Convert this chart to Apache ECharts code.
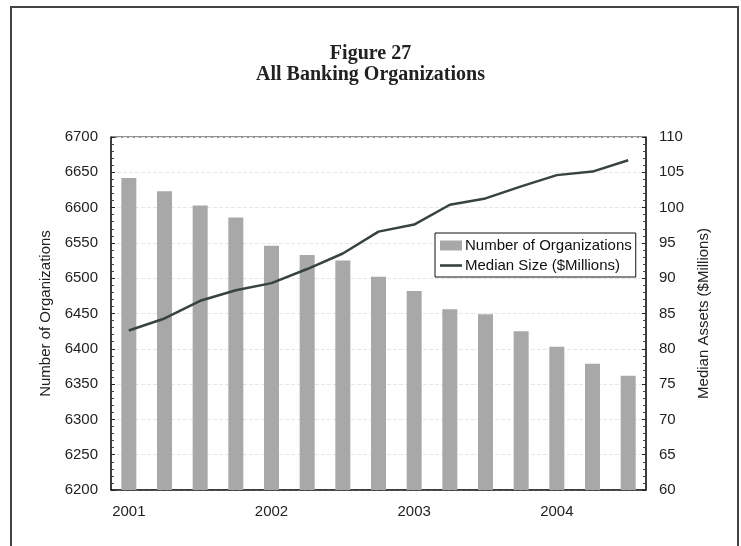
<!DOCTYPE html>
<html>
<head>
<meta charset="utf-8">
<script src="https://cdn.jsdelivr.net/npm/echarts@6/dist/echarts.min.js"></script>
<style>
  html, body { margin: 0; padding: 0; background: #fff; }
  #main { width: 741px; height: 546px; }
</style>
</head>
<body>
<div id="main"></div>
<script>
// quarterly, 2001 Q1 .. 2004 Q3
var quarters = ["2001", "2001 Q2", "2001 Q3", "2001 Q4",
  "2002", "2002 Q2", "2002 Q3", "2002 Q4",
  "2003", "2003 Q2", "2003 Q3", "2003 Q4",
  "2004", "2004 Q2", "2004 Q3"];
var numOrgs = [6642, 6623, 6603, 6586, 6546, 6533, 6525, 6502, 6482, 6456, 6449, 6425, 6403, 6379, 6362];
var medianSize = [82.6, 84.3, 86.8, 88.3, 89.3, 91.3, 93.5, 96.6, 97.6, 100.4, 101.3, 103.0, 104.6, 105.1, 106.7];

var chartDom = document.getElementById("main");
var myChart = echarts.init(chartDom);

var axisFont = { fontFamily: "Liberation Sans", fontSize: 15, color: "#222" };

var option = {
  animation: false,
  backgroundColor: "#fff",
  title: {
    text: "Figure 27\nAll Banking Organizations",
    left: "center",
    top: 38,
    textStyle: {
      fontFamily: "Liberation Serif",
      fontWeight: "bold",
      fontSize: 20,
      lineHeight: 21,
      color: "#222",
    },
  },
  graphic: [
    {
      type: "rect",
      shape: { x: 11, y: 7, width: 727, height: 560 },
      style: { fill: "none", stroke: "#444", lineWidth: 2 },
      silent: true,
    },
  ],
  legend: {
    orient: "vertical",
    left: 435,
    top: 233,
    backgroundColor: "#fff",
    borderColor: "#111",
    borderWidth: 1,
    padding: [5, 4, 4, 5],
    itemGap: 5,
    itemWidth: 22,
    itemHeight: 10,
    textStyle: { fontFamily: "Liberation Sans", fontSize: 15, color: "#111", padding: [0, 0, 0, -2] },
    data: [
      { name: "Number of Organizations", icon: "rect" },
      { name: "Median Size ($Millions)", icon: "path://M0,0H22V2.6H0Z" },
    ],
  },
  grid: {
    show: true,
    left: 111,
    right: 95,
    top: 137,
    bottom: 56,
    borderColor: "#222",
    borderWidth: 1,
  },
  xAxis: {
    type: "category",
    data: quarters,
    axisTick: { show: false },
    axisLine: { lineStyle: { color: "#222", width: 1.5 } },
    axisLabel: {
      interval: 3,
      margin: 14,
      formatter: function (v) { return v.slice(0, 4); },
      fontFamily: axisFont.fontFamily,
      fontSize: axisFont.fontSize,
      color: axisFont.color,
    },
  },
  yAxis: [
    {
      type: "value",
      min: 6200,
      max: 6700,
      interval: 50,
      name: "Number of Organizations",
      nameLocation: "middle",
      nameGap: 53,
      nameTextStyle: { fontFamily: "Liberation Sans", fontSize: 15, color: "#222" },
      axisLine: { show: true, lineStyle: { color: "#222", width: 1.5 } },
      axisTick: { show: true, inside: true, length: 4, lineStyle: { color: "#222" } },
      minorTick: { show: true, splitNumber: 5, length: 3, lineStyle: { color: "#444" } },
      axisLabel: {
        margin: 13,
        formatter: function (v) { return String(v); },
        fontFamily: axisFont.fontFamily,
        fontSize: axisFont.fontSize,
        color: axisFont.color,
      },
      splitLine: { show: true, lineStyle: { color: "#e6e6e6", type: [4, 2] } },
    },
    {
      type: "value",
      min: 60,
      max: 110,
      interval: 5,
      name: "Median Assets ($Millions)",
      nameLocation: "middle",
      nameGap: 50,
      nameTextStyle: { fontFamily: "Liberation Sans", fontSize: 15, color: "#222" },
      axisLine: { show: true, lineStyle: { color: "#222", width: 1.5 } },
      axisTick: { show: true, inside: true, length: 4, lineStyle: { color: "#222" } },
      minorTick: { show: true, splitNumber: 5, length: 3, lineStyle: { color: "#444" } },
      axisLabel: {
        margin: 13,
        fontFamily: axisFont.fontFamily,
        fontSize: axisFont.fontSize,
        color: axisFont.color,
      },
      splitLine: { show: false },
    },
  ],
  series: [
    {
      name: "Number of Organizations",
      type: "bar",
      yAxisIndex: 0,
      barWidth: 15,
      itemStyle: { color: "#a7a8a7" },
      data: numOrgs,
    },
    {
      name: "Median Size ($Millions)",
      type: "line",
      yAxisIndex: 1,
      symbol: "none",
      lineStyle: { color: "#38433f", width: 2.5 },
      itemStyle: { color: "#38433f" },
      data: medianSize,
    },
  ],
};

option && myChart.setOption(option);
</script>
</body>
</html>
